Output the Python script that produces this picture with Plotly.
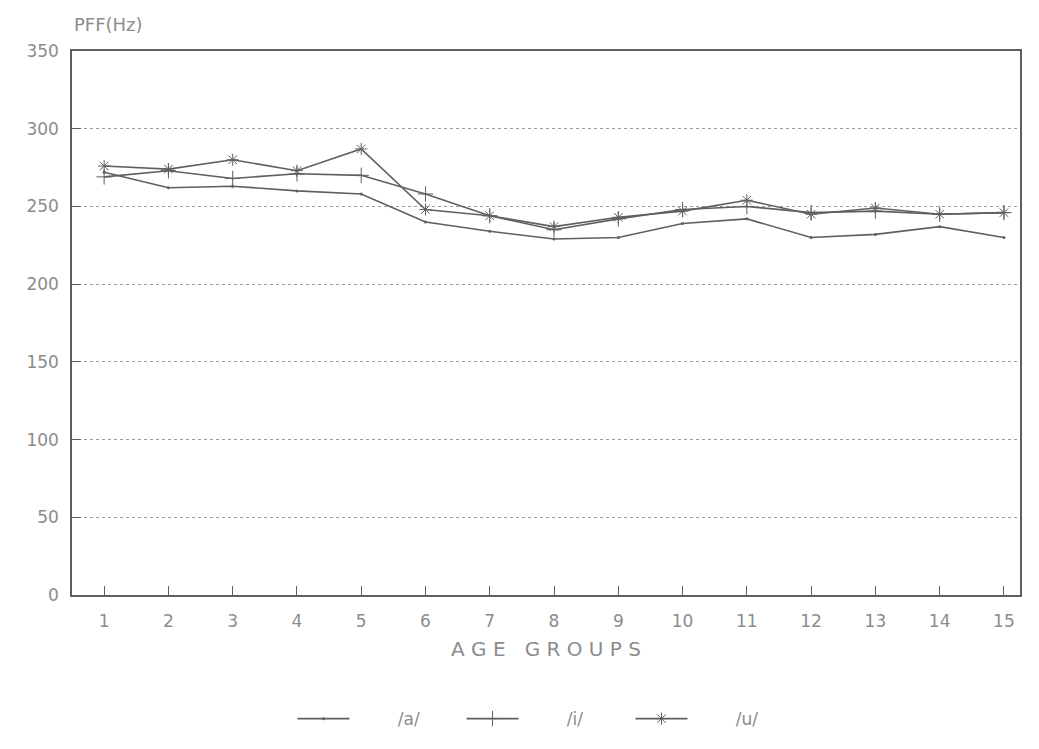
import plotly.graph_objects as go

# Age groups 1..15 on the x axis
age_groups = list(range(1, 16))

# Mean fundamental frequency (Hz) per vowel
pff_a = [272, 262, 263, 260, 258, 240, 234, 229, 230, 239, 242, 230, 232, 237, 230]
pff_i = [269, 273, 268, 271, 270, 258, 244, 235, 242, 248, 250, 246, 247, 245, 246]
pff_u = [276, 274, 280, 273, 287, 248, 244, 237, 243, 247, 254, 245, 249, 245, 246]

y_ticks = [0, 50, 100, 150, 200, 250, 300, 350]

INK = "#5f5f5f"
TEXT = "#8c8c8c"
FONT = "DejaVu Sans"
PAD = "\u00a0" * 8  # gap between legend symbol and label

fig = go.Figure()

series = [
    ("/a/", pff_a, dict(symbol="circle", size=3)),
    ("/i/", pff_i, dict(symbol="cross-thin", size=11, line=dict(width=1, color=INK))),
    ("/u/", pff_u, dict(symbol="asterisk", size=10, line=dict(width=1, color=INK))),
]
for name, vals, marker in series:
    fig.add_trace(go.Scatter(
        x=age_groups, y=vals, name=PAD + name, mode="lines+markers",
        line=dict(color=INK, width=1.6),
        marker=dict(color=INK, **marker),
    ))

fig.update_layout(
    width=1039, height=749,
    margin=dict(l=72, r=19, t=51, b=150),
    paper_bgcolor="white", plot_bgcolor="white",
    font=dict(family=FONT, color=TEXT, size=16),
    showlegend=True,
    legend=dict(
        orientation="h", x=0.5, xanchor="center", y=-0.195, yanchor="top",
        font=dict(size=17, color=TEXT), itemwidth=52,
        entrywidth=102, traceorder="normal",
    ),
    xaxis=dict(
        range=[0.5, 15.25], tickmode="array", tickvals=age_groups,
        ticktext=[str(v) for v in age_groups],
        ticks="inside", ticklen=9, tickcolor=INK, tickwidth=1,
        showline=True, linecolor=INK, linewidth=1.5, mirror=True,
        showgrid=False, zeroline=False, automargin=False,
        ticklabelstandoff=10,
        tickfont=dict(size=17, color=TEXT),
        title=dict(text="A G E   G R O U P S", font=dict(size=20, color=TEXT), standoff=12),
    ),
    yaxis=dict(
        range=[0, 350], tickmode="array", tickvals=y_ticks,
        ticktext=[str(v) for v in y_ticks],
        ticks="inside", ticklen=9, tickcolor=INK, tickwidth=1,
        showline=True, linecolor=INK, linewidth=1.5, mirror=True,
        showgrid=True, gridcolor="#9a9a9a", griddash="dot", gridwidth=1,
        zeroline=False, automargin=False, ticklabelstandoff=8,
        tickfont=dict(size=17, color=TEXT),
    ),
)

fig.add_annotation(
    text="PFF(Hz)", xref="paper", yref="paper", x=0, y=1,
    xanchor="left", yanchor="bottom", yshift=14, showarrow=False,
    font=dict(size=18, color=TEXT, family=FONT),
)

fig.write_html("out.html")
